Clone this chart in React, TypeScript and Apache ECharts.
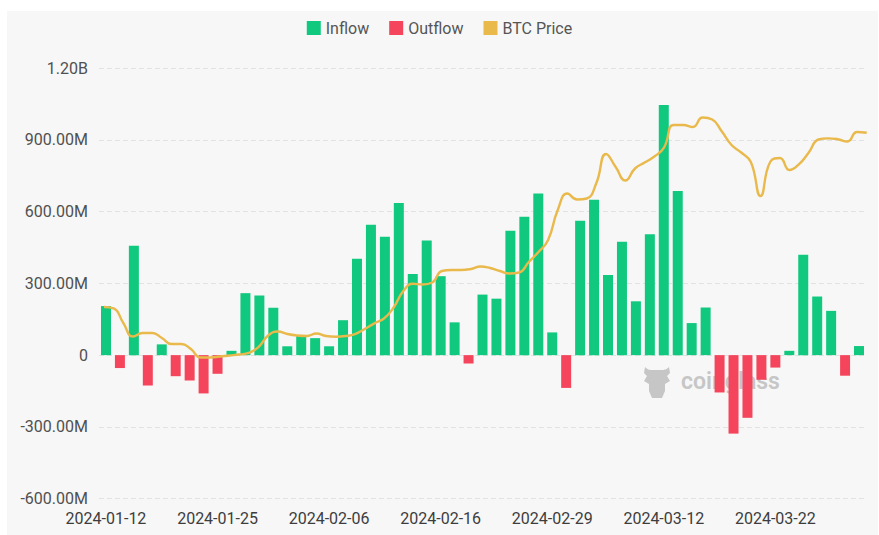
import React, { useEffect, useRef } from "react";
import * as echarts from "echarts";

// Trading days (x-axis categories)
const tradingDays: string[] = [
  "2024-01-12", "2024-01-16", "2024-01-17", "2024-01-18", "2024-01-19", "2024-01-22", "2024-01-23", "2024-01-24", "2024-01-25", "2024-01-26", "2024-01-29", "2024-01-30", "2024-01-31",
  "2024-02-01", "2024-02-02", "2024-02-05", "2024-02-06", "2024-02-07", "2024-02-08", "2024-02-09", "2024-02-12", "2024-02-13", "2024-02-14", "2024-02-15", "2024-02-16", "2024-02-20", "2024-02-21", "2024-02-22", "2024-02-23", "2024-02-26", "2024-02-27", "2024-02-28", "2024-02-29",
  "2024-03-01", "2024-03-04", "2024-03-05", "2024-03-06", "2024-03-07", "2024-03-08", "2024-03-11", "2024-03-12", "2024-03-13", "2024-03-14", "2024-03-15", "2024-03-18", "2024-03-19", "2024-03-20", "2024-03-21", "2024-03-22", "2024-03-25", "2024-03-26", "2024-03-27", "2024-03-28",
  "2024-04-01", "2024-04-02",
];

// Net flow per trading day, in millions USD
const netFlowM: number[] = [
  205, -54, 457, -127, 45, -88, -106, -160, -78, 18, 259, 249, 198, 37, 81, 71, 37, 146, 403, 545,
  495, 636, 339, 479, 330, 137, -35, 253, 236, 520, 578, 675, 95, -137, 562, 649, 335, 474, 225, 505,
  1045, 686, 134, 199, -156, -328, -262, -103, -52, 18, 420, 245, 185, -86, 38,
];

// BTC price, calendar days 2024-01-12 .. 2024-03-31
const priceStart = "2024-01-12";
const btcPrice: number[] = [
  46700, 46500, 44480, 42590, 43080, 43080, 42390, 41550, 41550, 40850,
  39670, 39670, 39810, 39950, 40090, 40300, 41130, 42730, 43290, 42940,
  42730, 42660, 43010, 42660, 42570, 42660, 42940, 43640, 44430, 45100,
  46630, 48930, 49940, 49840, 50120, 51720, 51860, 51860, 52000, 52350,
  52140, 51720, 51370, 51510, 52970, 54370, 56040, 60220, 62510, 61680,
  61820, 63980, 68020, 66210, 64330, 66000, 66830, 67670, 68920, 72060,
  72060, 71780, 73100, 72820, 71150, 69270, 68230, 66900, 62170, 66900,
  67460, 65790, 66620, 68230, 70040, 70200, 70080, 69760, 71080, 70980,
];

const flowTicks = { min: -600, max: 1200, interval: 300 };
const priceRange = { min: 20000, max: 80000 };

const seriesNames = ["Inflow", "Outflow", "BTC Price"];
const colors = { inflow: "#10c97f", outflow: "#f5455c", price: "#e9b94c" };

function buildPriceDays(): string[] {
  const out: string[] = [];
  const d = new Date(priceStart + "T00:00:00Z");
  for (let i = 0; i < btcPrice.length; i++) {
    out.push(d.toISOString().slice(0, 10));
    d.setUTCDate(d.getUTCDate() + 1);
  }
  return out;
}

function fmtFlow(v: number): string {
  if (v === 0) return "0";
  if (Math.abs(v) >= 1000) return (v / 1000).toFixed(2) + "B";
  return v.toFixed(2) + "M";
}

const LOGO_D =
  "M2 3 C5 6 7 6 9 6 L19 6 C21 6 23 6 26 3 L27 9 L24 12 L27 17 L22 20 L22 27 L19 34 L9 34 L6 27 L6 20 L1 17 L4 12 L1 9 Z";

export default function App() {
  const ref = useRef<HTMLDivElement>(null);

  useEffect(() => {
    document.body.style.margin = "0";
    if (!ref.current) return;
    try {
      echarts.graphic.registerShape("cgLogo", echarts.graphic.extendPath(LOGO_D, {}) as any);
    } catch (e) {}
    const chart = echarts.init(ref.current, undefined, { renderer: "svg" });
    const inflow = netFlowM.map((v) => (v > 0 ? v : "-"));
    const outflow = netFlowM.map((v) => (v < 0 ? v : "-"));
    const priceDays = buildPriceDays();
    const font = "Roboto";

    chart.setOption({
      animation: false,
      backgroundColor: "transparent",
      textStyle: { fontFamily: font },
      legend: {
        data: seriesNames,
        top: 15,
        left: "center",
        icon: "rect",
        itemWidth: 14,
        itemHeight: 14,
        itemGap: 20,
        textStyle: { fontSize: 16, color: "#555", fontFamily: font },
      },
      grid: [
        { left: 99, right: 13, top: 68, bottom: 36.3, containLabel: false },
        { left: 104, right: 12.3, top: 68, bottom: 36.3, containLabel: false },
      ],
      xAxis: [
        {
          type: "category",
          gridIndex: 0,
          data: tradingDays,
          axisLine: { show: false },
          axisTick: { show: false },
          axisLabel: { interval: 7, color: "#3d3d3d", fontSize: 16, margin: 12, fontFamily: font },
        },
        {
          type: "category",
          gridIndex: 1,
          data: priceDays,
          boundaryGap: false,
          show: false,
        },
      ],
      yAxis: [
        {
          type: "value",
          gridIndex: 0,
          min: flowTicks.min,
          max: flowTicks.max,
          interval: flowTicks.interval,
          axisLine: { show: false },
          axisTick: { show: false },
          axisLabel: { formatter: fmtFlow, color: "#505050", fontSize: 16, margin: 11, fontFamily: font },
          splitLine: { lineStyle: { type: [5, 3], color: "#e2e2e2", width: 1 } },
        },
        {
          type: "value",
          gridIndex: 1,
          min: priceRange.min,
          max: priceRange.max,
          show: false,
          splitLine: { show: false },
        },
      ],
      graphic: [
        { type: "cgLogo", x: 643, y: 364, style: { fill: "#c6c6c6" }, z: 0 },
        {
          type: "text",
          x: 681,
          y: 381,
          z: 0,
          style: {
            text: "coinglass",
            fill: "#c6c6c6",
            fontSize: 23,
            fontWeight: 600,
            fontFamily: font,
            verticalAlign: "middle",
          },
        },
      ],
      series: [
        {
          name: "Inflow",
          type: "bar",
          xAxisIndex: 0,
          yAxisIndex: 0,
          stack: "flow",
          barWidth: 10,
          itemStyle: { color: colors.inflow },
          data: inflow,
        },
        {
          name: "Outflow",
          type: "bar",
          xAxisIndex: 0,
          yAxisIndex: 0,
          stack: "flow",
          barWidth: 10,
          itemStyle: { color: colors.outflow },
          data: outflow,
        },
        {
          name: "BTC Price",
          type: "line",
          xAxisIndex: 1,
          yAxisIndex: 1,
          smooth: true,
          showSymbol: false,
          lineStyle: { color: colors.price, width: 2.4 },
          itemStyle: { color: colors.price },
          data: btcPrice,
          z: 5,
        },
      ],
    });
    return () => chart.dispose();
  }, []);

  return (
    <div style={{ position: "fixed", left: 0, top: 0, width: 879, height: 535, background: "#ffffff" }}>
      <div style={{ position: "absolute", left: 7, top: 11, right: 1, bottom: 0, background: "#f7f7f7" }} />
      <div ref={ref} style={{ position: "absolute", left: 0, top: 0, width: 879, height: 535 }} />
    </div>
  );
}
